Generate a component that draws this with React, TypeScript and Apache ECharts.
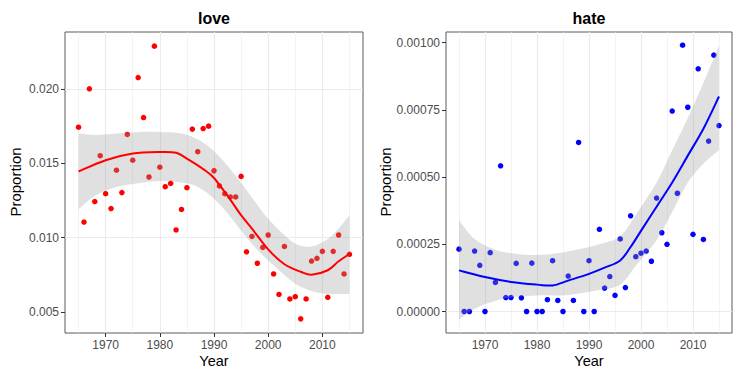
import React, { useEffect, useRef } from 'react';
import * as echarts from 'echarts';

const years = [
  1965, 1966, 1967, 1968, 1969, 1970, 1971, 1972, 1973, 1974, 1975, 1976, 1977,
  1978, 1979, 1980, 1981, 1982, 1983, 1984, 1985, 1986, 1987, 1988, 1989, 1990,
  1991, 1992, 1993, 1994, 1995, 1996, 1997, 1998, 1999, 2000, 2001, 2002, 2003,
  2004, 2005, 2006, 2007, 2008, 2009, 2010, 2011, 2012, 2013, 2014, 2015,
];

const loveValues = [
  0.01742, 0.01104, 0.0200, 0.01242, 0.0155, 0.01295, 0.01195, 0.01453, 0.01302,
  0.01693, 0.0152, 0.02076, 0.01807, 0.01407, 0.02287, 0.01473, 0.01342, 0.01364,
  0.01051, 0.01189, 0.01335, 0.01729, 0.01577, 0.01733, 0.01749, 0.01449, 0.01347,
  0.01295, 0.01273, 0.01273, 0.01411, 0.00904, 0.01007, 0.00827, 0.00933, 0.01017,
  0.00755, 0.00617, 0.0094, 0.00587, 0.00602, 0.00453, 0.00587, 0.00842, 0.0086,
  0.00907, 0.00598, 0.00907, 0.01017, 0.00755, 0.00887,
];

const hateValues = [
  0.000232, 0, 0, 0.000225, 0.000172, 0, 0.000219, 0.000108, 0.000542, 0.000052,
  0.000052, 0.000179, 0.000051, 0, 0.00018, 0, 0, 0.000044, 0.000189, 0.000041,
  0, 0.000132, 0.000041, 0.000629, 0, 0.000189, 0, 0.000306, 0.000087, 0.00013,
  0.00006, 0.00027, 0.000089, 0.000356, 0.000204, 0.000217, 0.000225, 0.000187,
  0.000422, 0.000293, 0.00025, 0.000746, 0.00044, 0.000991, 0.00076, 0.000287,
  0.000903, 0.000268, 0.000634, 0.000954, 0.000692,
];

const loveFitYears = [1965, 1970, 1975, 1980, 1983, 1985, 1988, 1990, 1993, 1995, 1997, 2000, 2003, 2006, 2008, 2011, 2013, 2015];
const loveFitValues = [0.01444, 0.0152, 0.01565, 0.01575, 0.0157, 0.0153, 0.0146, 0.0140, 0.01255, 0.0115, 0.0106, 0.0092, 0.0082, 0.0077, 0.0075, 0.0078, 0.0084, 0.0089];
const loveBandYears = [1965, 1968, 1972, 1976, 1980, 1984, 1987, 1990, 1993, 1996, 1999, 2002, 2005, 2008, 2011, 2013, 2015];
const loveBandUpper = [0.0170, 0.0169, 0.0170, 0.0171, 0.0171, 0.0170, 0.0166, 0.0158, 0.0146, 0.0132, 0.0117, 0.0105, 0.0096, 0.0094, 0.0099, 0.0106, 0.0115];
const loveBandLower = [0.0119, 0.0128, 0.0134, 0.01365, 0.0138, 0.0137, 0.0134, 0.0126, 0.0114, 0.0100, 0.0088, 0.0078, 0.0069, 0.0064, 0.0062, 0.0062, 0.0062];

const hateFitYears = [1965, 1970, 1975, 1980, 1983, 1986, 1990, 1993, 1996, 1998, 2000, 2003, 2006, 2009, 2012, 2015];
const hateFitValues = [0.000153, 0.000128, 0.00011, 0.0001, 0.000097, 0.000115, 0.00014, 0.000163, 0.00019, 0.00024, 0.0003, 0.00039, 0.00048, 0.00058, 0.00068, 0.0008];
const hateBandYears = [1965, 1968, 1972, 1976, 1980, 1985, 1989, 1992, 1996, 1999, 2003, 2006, 2009, 2012, 2015];
const hateBandUpper = [0.00034, 0.00027, 0.00023, 0.000215, 0.00021, 0.00022, 0.000235, 0.00025, 0.00028, 0.00036, 0.00048, 0.0006, 0.00072, 0.00085, 0.00099];
const hateBandLower = [-0.00003, 0.00001, 0.00004, 0.000055, 0.00006, 0.00006, 0.00007, 0.00008, 0.0001, 0.00017, 0.000265, 0.00037, 0.00048, 0.00055, 0.0006];

const yearTicks = [1970, 1980, 1990, 2000, 2010];
const yearMinor = [1965, 1975, 1985, 1995, 2005, 2015];
const loveTicks = [0.005, 0.01, 0.015, 0.02];
const loveMinor = [0.0075, 0.0125, 0.0175, 0.0225];
const hateTicks = [0, 0.00025, 0.0005, 0.00075, 0.001];
const hateMinor = [0.000125, 0.000375, 0.000625, 0.000875];

const FONT = '"Liberation Sans", Arial, Helvetica, sans-serif';
const GRID_COLOR = '#ebebeb';
const BAND_COLOR = 'rgba(153,153,153,0.3)';

type Pt = number[];

function catmullPath(pts: Pt[]): string {
  let d = '';
  for (let i = 0; i < pts.length - 1; i++) {
    const p0 = pts[i - 1] || pts[i];
    const p1 = pts[i];
    const p2 = pts[i + 1];
    const p3 = pts[i + 2] || p2;
    const c1x = p1[0] + (p2[0] - p0[0]) / 6;
    const c1y = p1[1] + (p2[1] - p0[1]) / 6;
    const c2x = p2[0] - (p3[0] - p1[0]) / 6;
    const c2y = p2[1] - (p3[1] - p1[1]) / 6;
    d += ` C ${c1x} ${c1y} ${c2x} ${c2y} ${p2[0]} ${p2[1]}`;
  }
  return d;
}

type PanelCfg = {
  idx: number;
  left: number;
  width: number;
  yMin: number;
  yMax: number;
  yTicks: number[];
  yMinor: number[];
  digits: number;
  values: number[];
  fitYears: number[];
  fitValues: number[];
  bandYears: number[];
  bandUpper: number[];
  bandLower: number[];
  color: string;
};

function buildPanel(p: PanelCfg) {
  const grid = {
    left: p.left,
    top: 32,
    width: p.width,
    height: 301,
    show: true,
    backgroundColor: '#ffffff',
    borderColor: '#5a5a5a',
    borderWidth: 1,
  };
  const xAxis = {
    type: 'value',
    gridIndex: p.idx,
    min: 1962.5,
    max: 2017.5,
    axisLine: { show: false },
    axisTick: { show: true, customValues: yearTicks, length: 4, lineStyle: { color: '#333333', width: 1 } },
    axisLabel: {
      customValues: yearTicks,
      color: '#4d4d4d',
      fontSize: 12,
      fontFamily: FONT,
      margin: 6,
      formatter: (v: number) => String(v),
    },
    splitLine: { show: false },
  };
  const yAxis = {
    type: 'value',
    gridIndex: p.idx,
    min: p.yMin,
    max: p.yMax,
    axisLine: { show: false },
    axisTick: { show: true, customValues: p.yTicks, length: 4, lineStyle: { color: '#333333', width: 1 } },
    axisLabel: {
      customValues: p.yTicks,
      color: '#4d4d4d',
      fontSize: 12,
      fontFamily: FONT,
      margin: 6,
      formatter: (v: number) => v.toFixed(p.digits),
    },
    splitLine: { show: false },
  };
  const gridLines = [
    ...yearMinor.map((v) => ({ xAxis: v, lineStyle: { color: GRID_COLOR, width: 0.6, type: 'solid' } })),
    ...p.yMinor.map((v) => ({ yAxis: v, lineStyle: { color: GRID_COLOR, width: 0.6, type: 'solid' } })),
    ...yearTicks.map((v) => ({ xAxis: v, lineStyle: { color: GRID_COLOR, width: 1.1, type: 'solid' } })),
    ...p.yTicks.map((v) => ({ yAxis: v, lineStyle: { color: GRID_COLOR, width: 1.1, type: 'solid' } })),
  ];
  const series = [
    {
      type: 'line',
      xAxisIndex: p.idx,
      yAxisIndex: p.idx,
      data: [],
      z: 1,
      silent: true,
      markLine: {
        z: 1,
        silent: true,
        symbol: ['none', 'none'],
        label: { show: false },
        emphasis: { disabled: true },
        animation: false,
        data: gridLines,
      },
    },
    {
      type: 'scatter',
      xAxisIndex: p.idx,
      yAxisIndex: p.idx,
      data: years.map((y, k) => [y, p.values[k]]),
      symbolSize: 5.5,
      itemStyle: { color: p.color, opacity: 1 },
      z: 2,
      silent: true,
    },
    {
      type: 'custom',
      xAxisIndex: p.idx,
      yAxisIndex: p.idx,
      data: p.bandYears.map((y, k) => [y, p.bandLower[k], p.bandUpper[k]]),
      encode: { x: 0, y: [1, 2] },
      z: 3,
      silent: true,
      renderItem: (params: any, api: any) => {
        if (params.dataIndex !== 0) return null;
        const up = p.bandYears.map((y, k) => api.coord([y, p.bandUpper[k]]));
        const lo = p.bandYears.map((y, k) => api.coord([y, p.bandLower[k]])).reverse();
        const d =
          `M ${up[0][0]} ${up[0][1]}` +
          catmullPath(up) +
          ` L ${lo[0][0]} ${lo[0][1]}` +
          catmullPath(lo) +
          ' Z';
        return {
          type: 'path',
          shape: { pathData: d },
          style: { fill: BAND_COLOR, stroke: null },
        };
      },
    },
    {
      type: 'custom',
      xAxisIndex: p.idx,
      yAxisIndex: p.idx,
      data: p.fitYears.map((y, k) => [y, p.fitValues[k]]),
      encode: { x: 0, y: 1 },
      z: 4,
      silent: true,
      renderItem: (params: any, api: any) => {
        if (params.dataIndex !== 0) return null;
        const pts = p.fitYears.map((y, k) => api.coord([y, p.fitValues[k]]));
        const d = `M ${pts[0][0]} ${pts[0][1]}` + catmullPath(pts);
        return {
          type: 'path',
          shape: { pathData: d },
          style: { fill: null, stroke: p.color, lineWidth: 2, lineJoin: 'round', lineCap: 'butt' },
        };
      },
    },
  ];
  return { grid, xAxis, yAxis, series };
}

export default function App() {
  const ref = useRef<HTMLDivElement>(null);
  useEffect(() => {
    if (!ref.current) return;
    const chart = echarts.init(ref.current, undefined, { renderer: 'svg' });
    const love = buildPanel({
      idx: 0,
      left: 65,
      width: 298,
      yMin: 0.00358,
      yMax: 0.02382,
      yTicks: loveTicks,
      yMinor: loveMinor,
      digits: 3,
      values: loveValues,
      fitYears: loveFitYears,
      fitValues: loveFitValues,
      bandYears: loveBandYears,
      bandUpper: loveBandUpper,
      bandLower: loveBandLower,
      color: '#ff0000',
    });
    const hate = buildPanel({
      idx: 1,
      left: 446,
      width: 286,
      yMin: -0.00008,
      yMax: 0.00104,
      yTicks: hateTicks,
      yMinor: hateMinor,
      digits: 5,
      values: hateValues,
      fitYears: hateFitYears,
      fitValues: hateFitValues,
      bandYears: hateBandYears,
      bandUpper: hateBandUpper,
      bandLower: hateBandLower,
      color: '#0000ff',
    });
    const textStyle = (text: string, size: number, weight: string = 'normal') => ({
      text,
      fill: '#000000',
      font: `${weight} ${size}px ${FONT}`,
      align: 'center',
      verticalAlign: 'middle',
    });
    chart.setOption({
      animation: false,
      backgroundColor: '#ffffff',
      grid: [love.grid, hate.grid],
      xAxis: [love.xAxis, hate.xAxis],
      yAxis: [love.yAxis, hate.yAxis],
      series: [...love.series, ...hate.series],
      graphic: [
        { type: 'text', x: 214, y: 18, style: textStyle('love', 16, 'bold') },
        { type: 'text', x: 589, y: 18, style: textStyle('hate', 16, 'bold') },
        { type: 'text', x: 214, y: 361, style: textStyle('Year', 14.5) },
        { type: 'text', x: 589, y: 361, style: textStyle('Year', 14.5) },
        { type: 'text', x: 15, y: 182, rotation: Math.PI / 2, style: textStyle('Proportion', 15) },
        { type: 'text', x: 385, y: 182, rotation: Math.PI / 2, style: textStyle('Proportion', 15) },
      ],
    });
    return () => chart.dispose();
  }, []);
  return (
    <div
      ref={ref}
      style={{ position: 'fixed', left: 0, top: 0, width: 742, height: 373, background: '#fff' }}
    />
  );
}
